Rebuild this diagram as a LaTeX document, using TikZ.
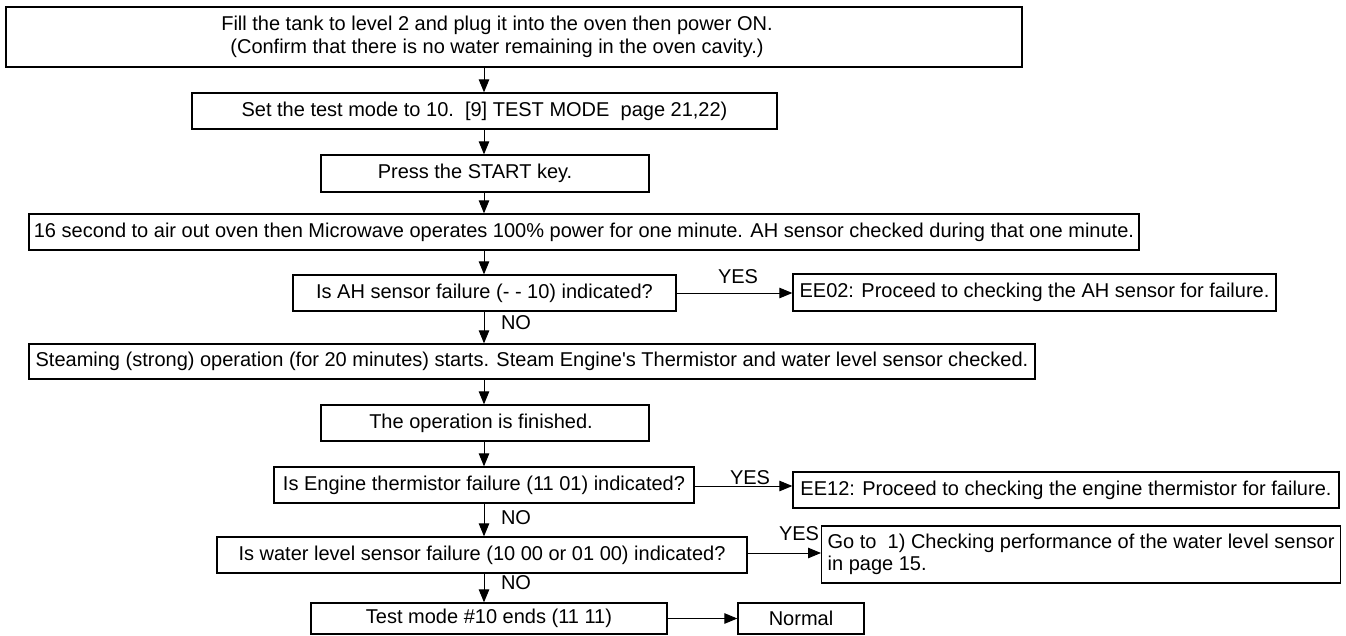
\documentclass[tikz,border=0pt]{standalone}
\usepackage{fontspec}
\newfontfamily\arial{Liberation Sans}
\usetikzlibrary{arrows.meta}
\begin{document}
\begin{tikzpicture}[x=1pt,y=-1pt,
  every node/.style={font=\arial\fontsize{20}{22.5}\selectfont, text=black},
  box/.style={draw=black, line width=1.3pt, inner sep=0pt, align=center},
  arr/.style={line width=1pt, -{Triangle[length=13pt,width=10.5pt]}},
  lbl/.style={inner sep=0pt}]
\useasboundingbox (0,0) rectangle (1346,635);
\node[box, minimum width=1016pt, minimum height=60pt] (b1) at (514,37)
  {Fill the tank to level 2 and plug it into the oven then power ON.\hspace*{34pt}\\(Confirm that there is no water remaining in the oven cavity.)\hspace*{34pt}};
\node[box, minimum width=585pt, minimum height=36pt] (b2) at (484.5,111)
  {Set the test mode to 10.\ \ [9] TEST MODE\ \ page 21,22)};
\node[box, minimum width=328pt, minimum height=37pt] (b3) at (485,173.5)
  {Press the START key.\hspace*{20pt}};
\node[box, minimum width=1110pt, minimum height=36pt] (b4) at (584,232)
  {16 second to air out oven then Microwave operates 100\% power for one minute. AH sensor checked during that one minute.};
\node[box, minimum width=383pt, minimum height=36pt] (b5) at (484.5,293)
  {Is AH sensor failure (- - 10) indicated?};
\node[box, minimum width=483pt, minimum height=37pt] (ee02) at (1034.5,292.5)
  {EE02: Proceed to checking the AH sensor for failure.};
\node[box, minimum width=1006pt, minimum height=35pt] (b6) at (532,361.5)
  {Steaming (strong) operation (for 20 minutes) starts. Steam Engine's Thermistor and water level sensor checked.};
\node[box, minimum width=328pt, minimum height=36pt] (b7) at (485,423)
  {The operation is finished.\hspace*{8pt}};
\node[box, minimum width=420pt, minimum height=36pt] (b8) at (484,485)
  {Is Engine thermistor failure (11 01) indicated?};
\node[box, minimum width=546pt, minimum height=36pt] (ee12) at (1066,490)
  {EE12: Proceed to checking the engine thermistor for failure.};
\node[box, minimum width=530pt, minimum height=36pt] (b9) at (482,555)
  {Is water level sensor failure (10 00 or 01 00) indicated?};
\node[box, align=left, inner xsep=6pt, minimum height=57pt, anchor=west] (goto) at (821,554.5)
  {Go to\ \ 1) Checking performance of the water level sensor\\in page 15.};
\node[box, minimum width=356pt, minimum height=31pt] (b10) at (489,618.5)
  {Test mode \#10 ends (11 11)};
\node[box, minimum width=126pt, minimum height=31pt] (normal) at (801,618.5)
  {Normal};
\node[lbl] (yes1) at (738,277) {YES};
\node[lbl] (yes2) at (750,478) {YES};
\node[lbl] (yes3) at (799,534) {YES};
\node[lbl] (no1) at (516,323) {NO};
\node[lbl] (no2) at (516,518) {NO};
\node[lbl] (no3) at (516,583) {NO};
\coordinate (sp) at (484,0);
\draw[arr] (b1.south -| sp) -- (b2.north -| sp);
\draw[arr] (b2.south -| sp) -- (b3.north -| sp);
\draw[arr] (b3.south -| sp) -- (b4.north -| sp);
\draw[arr] (b4.south -| sp) -- (b5.north -| sp);
\draw[arr] (b5.south -| sp) -- (b6.north -| sp);
\draw[arr] (b6.south -| sp) -- (b7.north -| sp);
\draw[arr] (b7.south -| sp) -- (b8.north -| sp);
\draw[arr] (b8.south -| sp) -- (b9.north -| sp);
\draw[arr] (b9.south -| sp) -- (b10.north -| sp);
\draw[arr] (b5.east) -- (b5.east -| ee02.west);
\draw[arr] ([yshift=-1pt]b8.east) -- ([yshift=-1pt]b8.east -| ee12.west);
\draw[arr] ([yshift=2pt]b9.east) -- ([yshift=2pt]b9.east -| goto.west);
\draw[arr] (b10.east) -- (b10.east -| normal.west);
\end{tikzpicture}
\end{document}
